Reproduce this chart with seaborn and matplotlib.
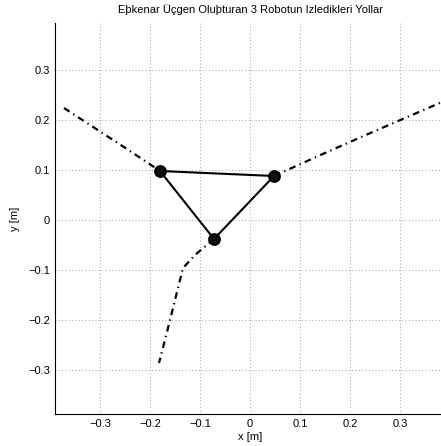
import numpy as np
import pandas as pd
import matplotlib
matplotlib.use("Agg")
import matplotlib.pyplot as plt
import seaborn as sns

# robot positions (triangle vertices)
robot_x = [-0.180, 0.048, -0.072]
robot_y = [0.098, 0.088, -0.038]

# path of each robot
path1_x = [-0.372, -0.300, -0.240, -0.180]
path1_y = [0.224, 0.177, 0.138, 0.098]
path2_x = [0.048, 0.150, 0.250, 0.384]
path2_y = [0.088, 0.134, 0.178, 0.236]
path3_x = [-0.072, -0.110, -0.134, -0.150, -0.165, -0.182]
path3_y = [-0.038, -0.070, -0.096, -0.160, -0.220, -0.286]

xticks = [-0.3, -0.2, -0.1, 0, 0.1, 0.2, 0.3]
yticks = [-0.3, -0.2, -0.1, 0, 0.1, 0.2, 0.3]
ticklabels = ["\u22120.3", "\u22120.2", "\u22120.1", "0", "0.1", "0.2", "0.3"]

sns.set_style("white")
plt.rcParams['font.family'] = ['Liberation Sans', 'DejaVu Sans']
plt.rcParams['text.color'] = 'black'
plt.rcParams['axes.labelcolor'] = 'black'

fig = plt.figure(figsize=(4.41, 4.46), dpi=100)
ax = fig.add_axes([55 / 441, 32 / 446, 390 / 441, 391 / 446])

dash = (0, (3, 2, 0.6, 2))
for px, py in [(path1_x, path1_y), (path2_x, path2_y), (path3_x, path3_y)]:
    df = pd.DataFrame({"x": px, "y": py})
    sns.lineplot(data=df, x="x", y="y", sort=False, ax=ax, color="black",
                 linewidth=1.6, linestyle=dash, estimator=None)

tri = pd.DataFrame({"x": robot_x + robot_x[:1], "y": robot_y + robot_y[:1]})
sns.lineplot(data=tri, x="x", y="y", sort=False, ax=ax, color="black",
             linewidth=1.5, estimator=None)
sns.scatterplot(x=robot_x, y=robot_y, ax=ax, color="#111111", s=55,
                edgecolor="black", linewidth=1.8, zorder=5)

ax.set_xlim(-0.39, 0.39)
ax.set_ylim(-0.388, 0.394)
ax.set_xticks(xticks)
ax.set_yticks(yticks)
ax.set_xticklabels(ticklabels)
ax.set_yticklabels(ticklabels)
ax.tick_params(direction="in", length=3, labelsize=8, colors="black", width=0.6)
ax.grid(True, linestyle=(0, (1, 3)), color="#888888", linewidth=0.6)
ax.set_axisbelow(True)
for s in ["top", "right"]:
    ax.spines[s].set_visible(False)
for s in ["left", "bottom"]:
    ax.spines[s].set_color("black")
    ax.spines[s].set_linewidth(0.8)

ax.set_xlabel("x [m]", fontsize=8, labelpad=2)
ax.set_ylabel("y [m]", fontsize=8, labelpad=6)
ax.set_title("Eþkenar Üçgen Oluþturan 3 Robotun Izledikleri Yollar", fontsize=8, pad=7)

fig.savefig("out.png", dpi=100)
